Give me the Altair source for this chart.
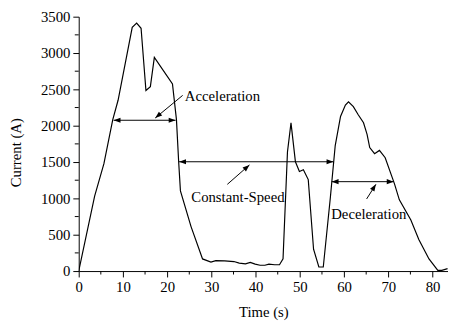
import math
import altair as alt
import pandas as pd

# ---- curve data ----
time_s = [0, 3.6, 5.7, 7.7, 8.9, 12.1, 13.1, 14.1, 15.2, 16.2, 17.1, 21.2, 22.1, 22.6,
          23.0, 25.4, 28.0, 29.9, 31.0, 33.0, 35.1, 36.3, 37.7, 38.8, 39.9, 41.0, 42.1,
          43.0, 44.3, 45.4, 46.2, 47.2, 48.0, 49.0, 49.9, 50.8, 51.9, 53.1, 54.3, 55.3,
          56.9, 58.0, 59.2, 60.3, 61.0, 62.1, 63.2, 64.4, 65.2, 65.8, 66.9, 68.0, 69.3,
          71.4, 72.5, 75.1, 76.9, 79.2, 81.2, 82.1, 83.4]
current_a = [0, 1032, 1477, 2083, 2350, 3353, 3412, 3340, 2484, 2538, 2939, 2574, 2083, 1504,
             1103, 612, 167, 123, 144, 140, 131, 110, 100, 120, 95, 80, 80,
             95, 87, 87, 167, 1638, 2039, 1504, 1370, 1393, 1259, 301, 56, 56,
             1013, 1727, 2128, 2284, 2329, 2262, 2150, 2040, 1880, 1700, 1615, 1660, 1560,
             1200, 980, 702, 435, 167, 10, 10, 33]

# ---- axis ticks ----
x_major = list(range(0, 81, 10))
x_minor = list(range(5, 81, 10))
y_major = list(range(0, 3501, 500))
y_minor = list(range(250, 3500, 500))

# ---- annotations ----
span_labels = ["Acceleration", "Constant-Speed", "Deceleration"]
span_x1 = [7.9, 22.7, 57.2]
span_x2 = [21.9, 57.6, 71.2]
span_y = [2075, 1504, 1230]

ptr_tail_x = [23.5, 33.6, 65.1]
ptr_tail_y = [2417, 1193, 992]
ptr_head_x = [17.3, 38.6, 67.2]
ptr_head_y = [2106, 1460, 1193]

text_x = [24.0, 36.0, 65.6]
text_y = [2406, 1013, 786]
text_align = ["left", "center", "center"]

X_MAX = 83.5
Y_MAX = 3500
W, H = 376, 259
FONT = "Liberation Serif"
FS = 15

xs = alt.Scale(domain=[0, X_MAX], nice=False, zero=False)
ys = alt.Scale(domain=[0, Y_MAX], nice=False)

df = pd.DataFrame({"t": time_s, "c": current_a})

axis_common = dict(
    domainColor="black", tickColor="black", labelColor="black", titleColor="black",
    labelFont=FONT, titleFont=FONT, labelFontSize=FS, titleFontSize=FS,
    titleFontWeight="normal", grid=False, labelOverlap=False, labelFlush=False,
    format="d", tickSize=6, domainWidth=1, tickWidth=1,
)

x_axis = alt.Axis(values=x_major, title="Time (s)", labelPadding=3, titlePadding=10, **axis_common)
y_axis = alt.Axis(values=y_major, title="Current (A)", labelPadding=3, titlePadding=17,
                  titleY=138, **axis_common)


def X(field=None, **kw):
    if field is None:
        return alt.X(scale=xs, axis=x_axis, **kw)
    return alt.X(field, scale=xs, axis=x_axis, **kw)


def Y(field=None, **kw):
    if field is None:
        return alt.Y(scale=ys, axis=y_axis, **kw)
    return alt.Y(field, scale=ys, axis=y_axis, **kw)


line = alt.Chart(df).mark_line(color="black", strokeWidth=1.2, clip=True).encode(
    x=X("t:Q"), y=Y("c:Q"),
)

# minor ticks
xm = pd.DataFrame({"v": x_minor})
x_minor_ticks = alt.Chart(xm).mark_rule(color="black", strokeWidth=1, y2Offset=3.5).encode(
    x=X("v:Q"), y=Y(datum=0), y2=alt.Y2(datum=0)
)
ym = pd.DataFrame({"v": y_minor})
y_minor_ticks = alt.Chart(ym).mark_rule(color="black", strokeWidth=1, x2Offset=-4).encode(
    y=Y("v:Q"), x=X(datum=0), x2=alt.X2(datum=0)
)

# pixel-per-unit factors for arrowhead orientation
kx = W / X_MAX
ky = H / Y_MAX

spans = pd.DataFrame({"label": span_labels, "x1": span_x1, "x2": span_x2, "y": span_y})
span_rules = alt.Chart(spans).mark_rule(color="black", strokeWidth=1).encode(
    x=X("x1:Q"), x2="x2:Q", y=Y("y:Q")
)

heads = []
for i in range(3):
    heads.append({"x": span_x2[i], "y": span_y[i], "ang": 0})
    heads.append({"x": span_x1[i], "y": span_y[i], "ang": 180})
    dx = (ptr_head_x[i] - ptr_tail_x[i]) * kx
    dy = -(ptr_head_y[i] - ptr_tail_y[i]) * ky
    a = math.degrees(math.atan2(dy, dx)) % 360
    heads.append({"x": ptr_head_x[i], "y": ptr_head_y[i], "ang": a})
heads_df = pd.DataFrame(heads)

arrow_shape = "M0,0 L-2,-0.75 L-2,0.75 Z"
head_marks = alt.Chart(heads_df).mark_point(
    shape=arrow_shape, filled=True, color="black", size=49, opacity=1, strokeWidth=0
).encode(
    x=X("x:Q"), y=Y("y:Q"),
    angle=alt.Angle("ang:Q", scale=None),
)

ptrs = pd.DataFrame({"x": ptr_tail_x, "y": ptr_tail_y, "x2": ptr_head_x, "y2": ptr_head_y})
ptr_rules = alt.Chart(ptrs).mark_rule(color="black", strokeWidth=1).encode(
    x=X("x:Q"), y=Y("y:Q"), x2="x2:Q", y2="y2:Q"
)

texts = pd.DataFrame({"label": span_labels, "x": text_x, "y": text_y, "align": text_align})
text_layers = []
for al in ["left", "center"]:
    text_layers.append(
        alt.Chart(texts[texts["align"] == al]).mark_text(
            font=FONT, fontSize=FS, color="black", align=al, baseline="middle"
        ).encode(x=X("x:Q"), y=Y("y:Q"), text="label:N")
    )

chart = alt.layer(line, x_minor_ticks, y_minor_ticks, span_rules, ptr_rules, head_marks,
                  *text_layers).properties(
    width=W, height=H,
    autosize=alt.AutoSizeParams(type="none"),
    padding={"left": 72, "top": 6, "right": 0, "bottom": 48},
    background="white",
).configure_view(stroke=None).configure_axis(labelOverlap=False)

chart.save("out.html", embed_options={"renderer": "svg", "actions": False})
